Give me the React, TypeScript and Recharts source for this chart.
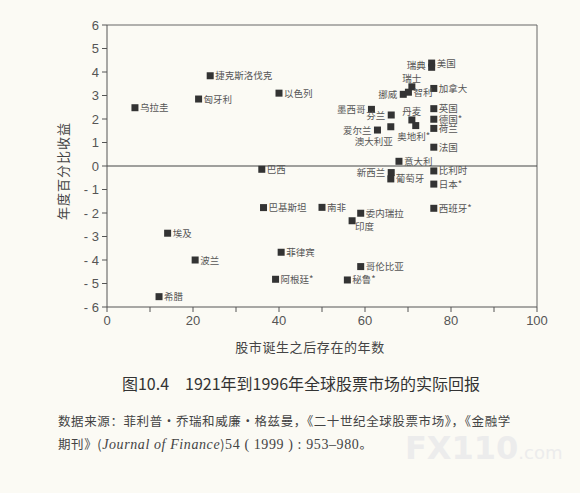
import React from "react";
import { ReferenceLine, Scatter, ScatterChart, XAxis, YAxis } from "recharts";

// 各国股市：存在年数 / 年度实际收益（%）
const countries = [
  "乌拉圭", "匈牙利", "捷克斯洛伐克", "以色列", "巴西", "巴基斯坦", "埃及", "波兰", "希腊",
  "菲律宾", "阿根廷*", "南非", "委内瑞拉", "印度", "哥伦比亚", "秘鲁*", "新西兰", "葡萄牙",
  "比利时", "日本*", "西班牙*", "意大利", "法国", "荷兰", "德国*", "英国", "加拿大", "美国",
  "瑞典", "瑞士", "挪威", "智利", "墨西哥", "芬兰", "丹麦", "奥地利*", "爱尔兰", "澳大利亚",
];
const yearsOfExistence = [
  6.5, 21.3, 24, 40, 36, 36.4, 14.1, 20.5, 12.1,
  40.5, 39.2, 50, 59, 57, 59, 55.9, 66.1, 66,
  76, 76, 76, 67.9, 76, 76, 76, 76, 76, 75.5,
  75.5, 70.9, 68.9, 70.1, 61.5, 66.1, 70.9, 71.8, 62.9, 66,
];
const annualReturns = [
  2.48, 2.85, 3.84, 3.1, -0.14, -1.77, -2.86, -4.0, -5.56,
  -3.67, -4.82, -1.76, -2.01, -2.33, -4.28, -4.85, -0.28, -0.55,
  -0.21, -0.77, -1.8, 0.2, 0.8, 1.6, 1.99, 2.44, 3.3, 4.38,
  4.2, 3.37, 3.05, 3.14, 2.41, 2.17, 1.96, 1.72, 1.53, 1.67,
];
const xTicks = [0, 10, 20, 30, 40, 50, 60, 70, 80, 90, 100];
const yTicks = [-6, -5, -4, -3, -2, -1, 0, 1, 2, 3, 4, 5, 6];

const points = countries.map((name, i) => ({
  name,
  years: yearsOfExistence[i],
  ret: annualReturns[i],
}));

// label placement (default: right of the marker)
const labelSide: Record<string, string> = {
  新西兰: "left",
  瑞典: "leftHigh",
  挪威: "left",
  墨西哥: "left",
  芬兰: "left",
  爱尔兰: "left",
  瑞士: "above",
  丹麦: "above",
  "奥地利*": "below",
  澳大利亚: "belowLeft",
  印度: "rightLow",
};

const CJK = "'Noto Sans CJK SC', sans-serif";
const NUM = "'Liberation Sans', Arial, sans-serif";

function Marker(props: any) {
  const { cx, cy, payload } = props;
  if (cx == null || cy == null) return null;
  const side = labelSide[payload.name] || "right";
  let tx = cx + 5;
  let ty = cy + 3.5;
  let anchor: "start" | "middle" | "end" = "start";
  if (side === "left") {
    tx = cx - 6;
    anchor = "end";
  } else if (side === "leftHigh") {
    tx = cx - 6;
    ty = cy + 1.5;
    anchor = "end";
  } else if (side === "above") {
    tx = cx;
    ty = cy - 5;
    anchor = "middle";
  } else if (side === "below") {
    tx = cx - 2;
    ty = cy + 14;
    anchor = "middle";
  } else if (side === "belowLeft") {
    tx = cx + 2;
    ty = cy + 18;
    anchor = "end";
  } else if (side === "rightLow") {
    tx = cx + 3;
    ty = cy + 9;
  }
  return (
    <g>
      <rect x={cx - 3.5} y={cy - 3.5} width={7} height={7} fill="#333" />
      <text x={tx} y={ty} textAnchor={anchor} fontSize={9.5} fill="#555" fontFamily={CJK}>
        {payload.name}
      </text>
    </g>
  );
}

export default function App() {
  return (
    <div
      style={{
        position: "absolute",
        left: 0,
        top: 0,
        width: 580,
        height: 493,
        background: "#fbfaf4",
        overflow: "hidden",
      }}
    >
      <div
        style={{
          position: "absolute",
          left: 405,
          top: 432,
          whiteSpace: "nowrap",
          fontFamily: "'DejaVu Sans', sans-serif",
          fontWeight: 700,
          fontSize: 32,
          lineHeight: "32px",
          color: "#ececec",
        }}
      >
        FX110<span style={{ fontSize: 18, fontWeight: 400 }}>.com</span>
      </div>

      <div style={{ position: "absolute", left: 0, top: 0 }}>
        <ScatterChart width={580} height={340} margin={{ top: 25, right: 43, left: 77, bottom: 3 }}>
          <XAxis
            type="number"
            dataKey="years"
            domain={[0, 100]}
            ticks={xTicks}
            tickFormatter={(v: number) => (v % 20 === 0 ? String(v) : "")}
            height={30}
            tickSize={5}
            tickMargin={4}
            stroke="#555"
            tick={{ fill: "#555", fontSize: 13, fontFamily: NUM }}
            allowDataOverflow
          />
          <YAxis
            type="number"
            dataKey="ret"
            domain={[-6, 6]}
            ticks={yTicks}
            tickFormatter={(v: number) => (v < 0 ? `- ${-v}` : String(v))}
            width={30}
            tickSize={5}
            tickMargin={3}
            stroke="#555"
            tick={{ fill: "#555", fontSize: 13, fontFamily: NUM }}
            allowDataOverflow
          />
          <ReferenceLine y={6} stroke="#666" strokeWidth={1} />
          <ReferenceLine x={100} stroke="#666" strokeWidth={1} />
          <ReferenceLine y={0} stroke="#444" strokeWidth={1.2} />
          <Scatter data={points} shape={<Marker />} isAnimationActive={false} />
        </ScatterChart>
      </div>

      <div
        style={{
          position: "absolute",
          left: 62,
          top: 171,
          transform: "translate(-50%, -50%) rotate(-90deg)",
          whiteSpace: "nowrap",
          fontFamily: CJK,
          fontSize: 13,
          letterSpacing: 1,
          color: "#444",
        }}
      >
        年度百分比收益
      </div>
      <div
        style={{
          position: "absolute",
          left: 310,
          top: 346,
          transform: "translate(-50%, -50%)",
          whiteSpace: "nowrap",
          fontFamily: CJK,
          fontSize: 13,
          letterSpacing: 0.6,
          color: "#444",
        }}
      >
        股市诞生之后存在的年数
      </div>
      <div
        style={{
          position: "absolute",
          left: 301,
          top: 383,
          transform: "translate(-50%, -50%)",
          whiteSpace: "nowrap",
          fontFamily: CJK,
          fontSize: 16,
          color: "#333",
        }}
      >
        图10.4　1921年到1996年全球股票市场的实际回报
      </div>
      <div
        style={{
          position: "absolute",
          left: 58,
          top: 409,
          whiteSpace: "nowrap",
          fontFamily: CJK,
          fontSize: 12.5,
          letterSpacing: 0.6,
          lineHeight: "23px",
          color: "#444",
        }}
      >
        <div>数据来源：菲利普·乔瑞和威廉·格兹曼，《二十世纪全球股票市场》，《金融学</div>
        <div>
          期刊》(<i style={{ fontFamily: "'Liberation Serif', serif", fontSize: 14 }}>Journal of Finance</i>)
          <span style={{ fontFamily: "'Liberation Serif', serif", fontSize: 14 }}>54 ( 1999 ) : 953–980</span>。
        </div>
      </div>
    </div>
  );
}
